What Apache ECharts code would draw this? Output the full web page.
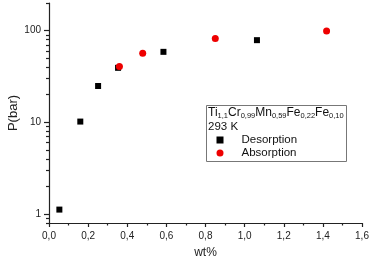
<!DOCTYPE html>
<html>
<head>
<meta charset="utf-8">
<script src="https://cdn.jsdelivr.net/npm/echarts@6/dist/echarts.min.js"></script>
<style>html,body{margin:0;padding:0;background:#fff}#c{width:375px;height:261px}</style>
</head>
<body>
<div id="c"></div>
<script>
// Data
var desorptionWt = [0.053, 0.16, 0.251, 0.353, 0.585, 1.063];
var desorptionP  = [1.12, 10.2, 24.9, 39.3, 58.7, 78.7];
var absorptionWt = [0.36, 0.479, 0.85, 1.419];
var absorptionP  = [40.6, 56.8, 81.9, 99.3];
var yMajorTicks = [1, 10, 100];
var yMinorTicks = [0.8, 0.9, 2, 3, 4, 5, 6, 7, 8, 9, 20, 30, 40, 50, 60, 70, 80, 90, 200];
var xLabelStep = 0.2;
var headerLabel = '{m|Ti}{s|1,1}{m|Cr}{s|0,99}{m|Mn}{s|0,59}{m|Fe}{s|0,22}{m|Fe}{s|0,10}';
var tempLabel = '293 K';

function pairs(xs, ys) { return xs.map(function (x, i) { return [x, ys[i]]; }); }

var FONT = '"Liberation Sans", Arial, sans-serif';
var chart = echarts.init(document.getElementById('c'), null, { renderer: 'canvas' });
var axisColor = '#222';
chart.setOption({
  animation: false,
  backgroundColor: '#fff',
  grid: { left: 49, right: 13, top: 3, bottom: 38, outerBoundsMode: 'none', containLabel: false },
  xAxis: {
    type: 'value', min: 0, max: 1.6, interval: xLabelStep,
    name: 'wt%', nameLocation: 'middle', nameGap: 24, nameMoveOverlap: false,
    nameTextStyle: { fontFamily: FONT, fontSize: 12, color: '#222' },
    axisLine: { show: true, onZero: false, lineStyle: { color: axisColor, width: 1.2 } },
    axisTick: { show: true, length: 4, lineStyle: { color: axisColor, width: 1.2 } },
    minorTick: { show: true, splitNumber: 2, length: 2.5, lineStyle: { color: axisColor, width: 1.2 } },
    splitLine: { show: false },
    axisLabel: { fontFamily: FONT, fontSize: 10, color: '#222', margin: 8,
      formatter: function (v) { return v.toFixed(1).replace('.', ','); } }
  },
  yAxis: [{
    type: 'log', min: 0.8, max: 200, logBase: 10,
    name: 'P(bar)', nameLocation: 'middle', nameGap: 29, nameMoveOverlap: false,
    nameTextStyle: { fontFamily: FONT, fontSize: 13, color: '#222' },
    axisLine: { show: true, onZero: false, lineStyle: { color: axisColor, width: 1.2 } },
    axisTick: { show: true, length: 5, customValues: yMajorTicks, lineStyle: { color: axisColor, width: 1.2 } },
    splitLine: { show: false },
    axisLabel: { fontFamily: FONT, fontSize: 10, color: '#222', margin: 8, customValues: yMajorTicks,
      formatter: function (v) { return String(Math.round(v)); } }
  }, {
    type: 'log', min: 0.8, max: 200, logBase: 10, position: 'left',
    axisLine: { show: false },
    axisTick: { show: true, length: 3, customValues: yMinorTicks, lineStyle: { color: axisColor, width: 1.2 } },
    axisLabel: { show: false },
    splitLine: { show: false }
  }],
  legend: {
    orient: 'vertical', left: 216.5, top: 133.5, itemGap: 0, padding: 0,
    itemWidth: 7, itemHeight: 7,
    textStyle: { fontFamily: FONT, fontSize: 11.5, color: '#111', padding: [0, 0, 0, 13], lineHeight: 13 },
    data: [{ name: 'Desorption', icon: 'rect' }, { name: 'Absorption', icon: 'circle' }]
  },
  graphic: [
    { type: 'rect', left: 204, top: 103, shape: { width: 140, height: 56 },
      style: { fill: 'none', stroke: '#777', lineWidth: 1 }, z: 10 },
    { type: 'text', left: 208, top: 105, z: 11,
      style: { text: headerLabel, fontFamily: FONT, fontSize: 12, fill: '#111',
        rich: {
          m: { fontFamily: FONT, fontSize: 12, fill: '#111', verticalAlign: 'top', lineHeight: 13 },
          s: { fontFamily: FONT, fontSize: 7.5, fill: '#111', verticalAlign: 'bottom', lineHeight: 9, padding: [7, 0, 0, 0] }
        } } },
    { type: 'text', left: 208, top: 121, z: 11,
      style: { text: tempLabel, fontFamily: FONT, fontSize: 11.5, fill: '#111' } }
  ],
  series: [{
    name: 'Desorption', type: 'scatter', symbol: 'rect', symbolSize: 6,
    itemStyle: { color: '#000', opacity: 1 }, data: pairs(desorptionWt, desorptionP)
  }, {
    name: 'Absorption', type: 'scatter', symbol: 'circle', symbolSize: 7,
    itemStyle: { color: '#ee0000', opacity: 1 }, data: pairs(absorptionWt, absorptionP)
  }]
});
</script>
</body>
</html>
